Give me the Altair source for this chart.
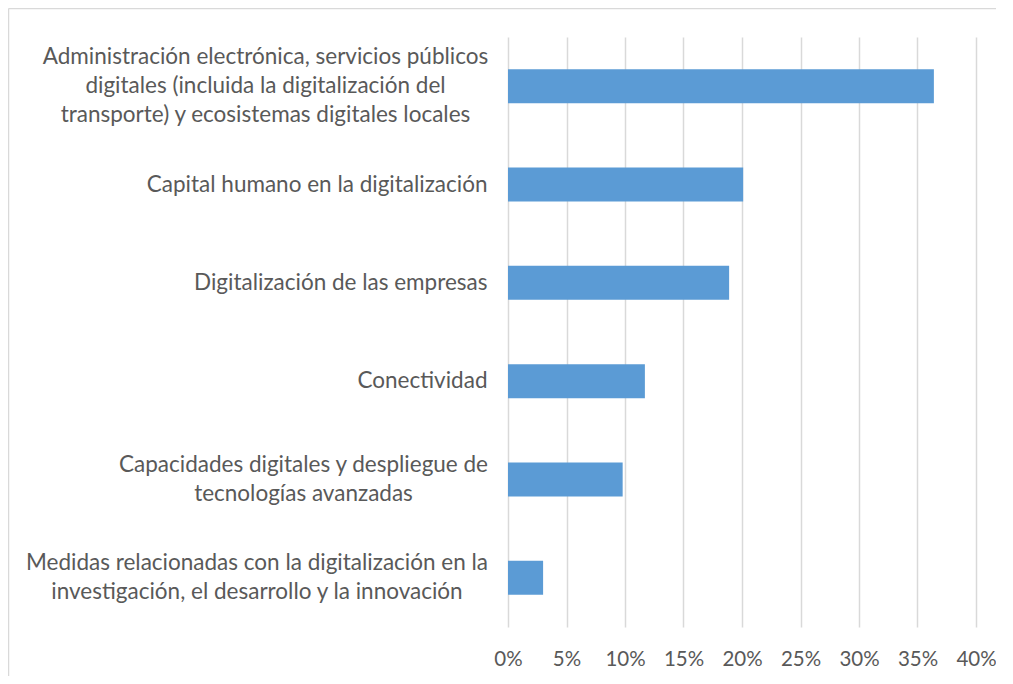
import json
import altair as alt
import pandas as pd

categories = [
    "Administración electrónica, servicios públicos|digitales (incluida la digitalización del|transporte) y ecosistemas digitales locales",
    "Capital humano en la digitalización",
    "Digitalización de las empresas",
    "Conectividad",
    "Capacidades digitales y despliegue de|tecnologías avanzadas",
    "Medidas relacionadas con la digitalización en la|investigación, el desarrollo y la innovación",
]
shares = [0.364, 0.201, 0.189, 0.117, 0.098, 0.030]
tick_values = [0, 0.05, 0.10, 0.15, 0.20, 0.25, 0.30, 0.35, 0.40]

df = pd.DataFrame({"categoria": categories, "valor": shares})

FONT = "Lato"
TEXT = "#595959"
GRID = "#d9d9d9"
LINE_H = 29

# label layout (styling): multi-line labels are centred blocks, right edge ~21px from axis
block_centre_pad = {categories[0]: 243, categories[4]: 205, categories[5]: 251.5}


def is_cat(c):
    return f"datum.value === {json.dumps(c)}"


multi = [c for c in categories if "|" in c]
label_offset = {
    "condition": [
        {"test": is_cat(c), "value": -(c.count("|")) * LINE_H / 2} for c in multi
    ],
    "value": 0,
}
label_padding = {
    "condition": [{"test": is_cat(c), "value": block_centre_pad[c]} for c in multi],
    "value": 21,
}
label_align = {
    "condition": [{"test": " || ".join(is_cat(c) for c in multi), "value": "center"}],
    "value": "right",
}

bars = alt.Chart(df).mark_bar(color="#5b9bd5").encode(
    x=alt.X(
        "valor:Q",
        scale=alt.Scale(domain=[0, 0.4], nice=False),
        axis=alt.Axis(
            values=tick_values,
            format=".0%",
            title=None,
            grid=True,
            gridColor=GRID,
            gridWidth=1.5,
            domain=False,
            ticks=False,
            labelOverlap=False,
            labelFlush=False,
            labelFont=FONT,
            labelFontSize=20.5,
            labelColor=TEXT,
            labelPadding=22,
            labelBaseline="top",
        ),
    ),
    y=alt.Y(
        "categoria:N",
        sort=None,
        scale=alt.Scale(paddingInner=0.654, paddingOuter=0.327),
        axis=alt.Axis(
            title=None,
            domain=False,
            ticks=False,
            grid=False,
            labelExpr="split(datum.value, '|')",
            labelFont=FONT,
            labelFontSize=22.5,
            labelColor=TEXT,
            labelPadding=label_padding,
            labelOffset=label_offset,
            labelAlign=label_align,
            labelLineHeight=LINE_H,
            labelLimit=700,
            labelBaseline="middle",
        ),
    ),
)

border_df = pd.DataFrame({"k": [0]})
left_edge = alt.Chart(border_df).mark_rule(color=GRID, strokeWidth=1.5, clip=False).encode(
    x=alt.value(-499.5), y=alt.value(-28.5), y2=alt.value(800)
)
top_edge = alt.Chart(border_df).mark_rule(color=GRID, strokeWidth=1.5, clip=False).encode(
    x=alt.value(-499.5), x2=alt.value(900), y=alt.value(-28.5)
)

chart = alt.layer(left_edge, top_edge, bars).properties(
    width=468,
    height=590,
    padding={"left": 500, "top": 29, "right": 20, "bottom": 49},
    autosize=alt.AutoSizeParams(type="none"),
).configure_view(stroke=None)

chart.save("out.html", embed_options={"renderer": "svg", "actions": False})
